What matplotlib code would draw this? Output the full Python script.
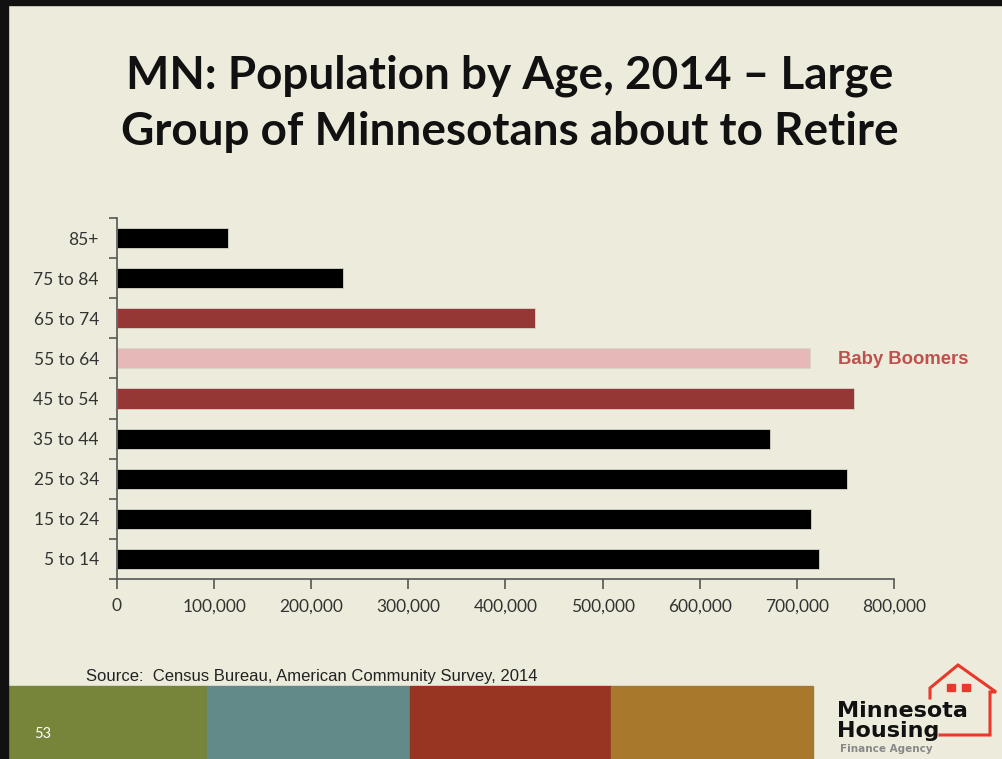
import matplotlib
matplotlib.use("Agg")
import matplotlib.pyplot as plt
from matplotlib.patches import Rectangle
from matplotlib.lines import Line2D
from matplotlib.ticker import FuncFormatter, FixedLocator

W, H = 1003, 759

# data (bottom to top)
ages = ["5 to 14", "15 to 24", "25 to 34", "35 to 44", "45 to 54",
        "55 to 64", "65 to 74", "75 to 84", "85+"]
population = [723000, 715000, 752000, 672000, 759000, 714000, 430000, 233000, 114000]
bar_colors = ["#000000", "#000000", "#000000", "#000000", "#953735",
              "#E6B9B8", "#953735", "#000000", "#000000"]

bg = "#EDECDC"


def fx(x):
    return x / W


def fy(y):
    return 1 - y / H


fig = plt.figure(figsize=(W / 100, H / 100), dpi=100)
fig.patch.set_facecolor(bg)

# frame edges (black border top/left)
fig.add_artist(Rectangle((0, fy(5)), 1, 5 / H, transform=fig.transFigure,
                         color="#111111", zorder=5))
fig.add_artist(Rectangle((0, 0), fx(8), 1, transform=fig.transFigure,
                         color="#111111", zorder=5))

# bottom colour band
band = [(8, 207, "#77853A"), (207, 410, "#628A89"),
        (410, 611, "#983522"), (611, 813, "#A8782C")]
for x0, x1, c in band:
    fig.add_artist(Rectangle((fx(x0), 0), fx(x1 - x0), (H - 686) / H,
                             transform=fig.transFigure, color=c, zorder=2))

# title
fig.text(0.508, fy(76), "MN: Population by Age, 2014 \u2013 Large",
         ha="center", va="center", fontsize=33, fontweight="bold",
         family="Lato", color="#111111")
fig.text(0.508, fy(132), "Group of Minnesotans about to Retire",
         ha="center", va="center", fontsize=33, fontweight="bold",
         family="Lato", color="#111111")

# chart
ax = fig.add_axes([fx(117), fy(579), fx(894 - 117), (579 - 218) / H])
ax.set_facecolor("none")
ax.barh(range(len(ages)), population, height=0.5, color=bar_colors,
        edgecolor="#d8d6c6", linewidth=0.6)
ax.set_xlim(0, 800000)
ax.set_ylim(-0.5, len(ages) - 0.5)
ax.set_yticks(range(len(ages)))
ax.set_yticklabels(ages)
ax.yaxis.set_minor_locator(FixedLocator([i - 0.5 for i in range(len(ages) + 1)]))
ax.tick_params(axis="y", which="major", length=0, pad=13,
               labelsize=12.5, labelcolor="#333333")
ax.tick_params(axis="y", which="minor", length=6, color="#555555", width=1.2)
ax.set_xticks(range(0, 800001, 100000))
ax.xaxis.set_major_formatter(FuncFormatter(lambda v, p: f"{int(v):,}"))
ax.tick_params(axis="x", length=7, color="#555555", width=1.2, pad=7,
               labelsize=12.5, labelcolor="#333333")
for lab in ax.get_xticklabels() + ax.get_yticklabels():
    lab.set_family("Lato")
for s in ["top", "right"]:
    ax.spines[s].set_visible(False)
for s in ["left", "bottom"]:
    ax.spines[s].set_color("#555555")
    ax.spines[s].set_linewidth(1.2)

fig.text(fx(838), fy(360), "Baby Boomers", ha="left", va="center",
         fontsize=13.3, fontweight="bold", family="Liberation Sans",
         color="#C0504D")

# source
fig.text(fx(86), fy(676), "Source:  Census Bureau, American Community Survey, 2014",
         ha="left", va="center", fontsize=12, family="Liberation Sans",
         color="#222222")

# slide number
fig.text(fx(34), fy(734), "53", ha="left", va="center", fontsize=10.5,
         family="Lato", color="white", zorder=6)

# logo
red = "#E8392B"
house = [(930, 698), (930, 688), (958, 665), (996, 692), (990, 692),
         (990, 735), (940, 735)]
fig.add_artist(Line2D([fx(p[0]) for p in house], [fy(p[1]) for p in house],
                      transform=fig.transFigure, color=red, lw=2.2,
                      solid_joinstyle="miter", zorder=6))
for wx in (947, 962):
    fig.add_artist(Rectangle((fx(wx), fy(691)), fx(8), 7 / H,
                             transform=fig.transFigure, color=red, zorder=6))
fig.text(fx(837), fy(711), "Minnesota", ha="left", va="center", fontsize=16,
         fontweight="bold", family="DejaVu Sans", color="#111111", zorder=7)
fig.text(fx(837), fy(731), "Housing", ha="left", va="center", fontsize=16,
         fontweight="bold", family="DejaVu Sans", color="#111111", zorder=7)
fig.text(fx(840), fy(749), "Finance Agency", ha="left", va="center", fontsize=7.5,
         fontweight="bold", family="DejaVu Sans", color="#888888", zorder=7)

fig.savefig("out.png", dpi=100, facecolor=bg)
